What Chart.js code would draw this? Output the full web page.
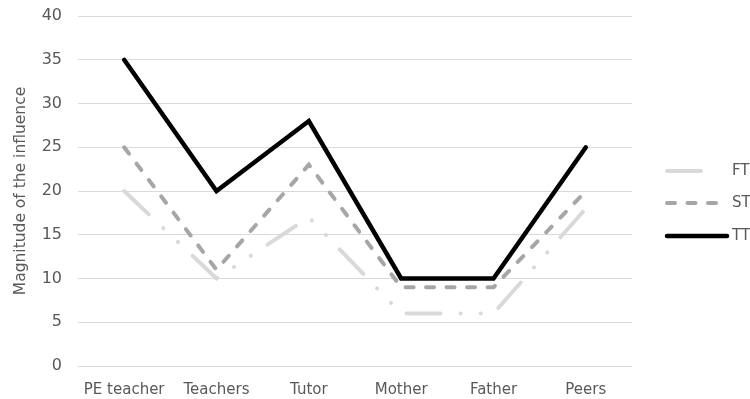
<!DOCTYPE html>
<html>
<head>
<meta charset="utf-8">
<script src="https://cdn.jsdelivr.net/npm/chart.js@4/dist/chart.umd.min.js"></script>
<style>
  html, body { margin: 0; padding: 0; background: #ffffff; }
  #wrap { width: 750px; height: 399px; }
</style>
</head>
<body>
<div id="wrap"><canvas id="chart" width="750" height="399"></canvas></div>
<script>
// Influence sources along the x axis
const categories = ['PE teacher', 'Teachers', 'Tutor', 'Mother', 'Father', 'Peers'];

// Magnitude of the influence per series
const seriesNames = ['FT', 'ST', 'TT'];
const ftValues = [20, 10, 17, 6, 6, 18];
const stValues = [25, 11, 23, 9, 9, 20];
const ttValues = [35, 20, 28, 10, 10, 25];

// Y axis tick range
const yTicks = [0, 5, 10, 15, 20, 25, 30, 35, 40];

const textColor = '#595959';
const fontFamily = '"DejaVu Sans", sans-serif';

const seriesStyles = [
  { color: '#d9d9d9', width: 4, dash: [34, 20, 0.1, 20, 0.1, 20], order: 3, legendLen: 38 },
  { color: '#a6a6a6', width: 4, dash: [8, 12.5], order: 2, legendLen: 58 },
  { color: '#000000', width: 4.5, dash: [], order: 1, legendLen: 60 }
];
const seriesValues = [ftValues, stValues, ttValues];

const datasets = seriesNames.map((name, i) => ({
  label: name,
  data: seriesValues[i],
  borderColor: seriesStyles[i].color,
  backgroundColor: seriesStyles[i].color,
  borderWidth: seriesStyles[i].width,
  borderDash: seriesStyles[i].dash,
  borderCapStyle: 'round',
  borderJoinStyle: 'miter',
  pointRadius: 0,
  pointHoverRadius: 0,
  tension: 0,
  fill: false,
  order: seriesStyles[i].order
}));

// Legend on the right: a line sample per series followed by its name
const sideLegend = {
  id: 'sideLegend',
  afterDraw(chart) {
    const ctx = chart.ctx;
    const x0 = chart.chartArea.right + 35;
    const rowY = [171, 203, 236];
    ctx.save();
    chart.data.datasets.forEach((ds, i) => {
      const st = seriesStyles[i];
      const y = rowY[i];
      ctx.beginPath();
      ctx.lineCap = 'round';
      ctx.lineWidth = st.width;
      ctx.strokeStyle = ds.borderColor;
      ctx.setLineDash(st.dash);
      ctx.moveTo(x0, y);
      ctx.lineTo(x0 + st.legendLen, y);
      ctx.stroke();
      ctx.setLineDash([]);
      ctx.fillStyle = textColor;
      ctx.font = '15px ' + fontFamily;
      ctx.textAlign = 'left';
      ctx.textBaseline = 'middle';
      ctx.fillText(ds.label, x0 + 65, y);
    });
    ctx.restore();
  }
};

new Chart(document.getElementById('chart'), {
  type: 'line',
  data: { labels: categories, datasets },
  plugins: [sideLegend],
  options: {
    responsive: false,
    animation: false,
    events: [],
    layout: { padding: { left: 0, right: 118, top: 16, bottom: 0 } },
    plugins: {
      legend: { display: false },
      tooltip: { enabled: false }
    },
    scales: {
      x: {
        offset: true,
        grid: { display: false, drawTicks: false },
        border: { display: false },
        ticks: {
          color: textColor,
          font: { family: fontFamily, size: 15 },
          padding: 15,
          maxRotation: 0,
          autoSkip: false
        },
        afterFit(scale) { scale.height = 33; }
      },
      y: {
        min: yTicks[0],
        max: yTicks[yTicks.length - 1],
        afterBuildTicks(scale) { scale.ticks = yTicks.map(v => ({ value: v })); },
        grid: { color: '#d9d9d9', lineWidth: 1, drawTicks: false },
        border: { display: false },
        ticks: {
          color: textColor,
          font: { family: fontFamily, size: 16 },
          padding: 16
        },
        title: {
          display: true,
          text: 'Magnitude of the influence',
          color: textColor,
          font: { family: fontFamily, size: 15.5 },
          padding: { top: 12, bottom: 0 }
        },
        afterFit(scale) {
          scale.width = 78;
          scale.paddingTop = 0;
          scale.paddingBottom = 0;
        }
      }
    }
  }
});
</script>
</body>
</html>
